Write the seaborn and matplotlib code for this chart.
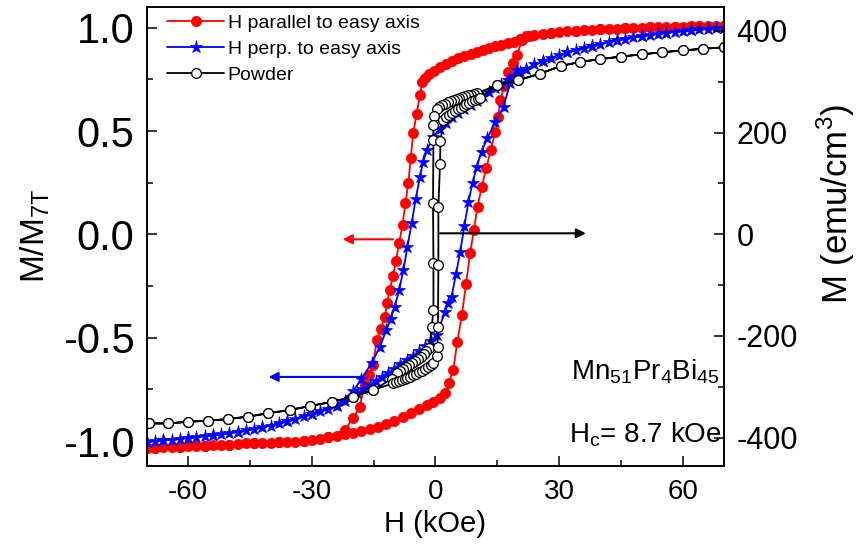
"""
Hysteresis loops of Mn51Pr4Bi45 (aligned / perpendicular / powder)
"""

import matplotlib
matplotlib.use("Agg")
import matplotlib.pyplot as plt
from matplotlib.ticker import MultipleLocator, FormatStrFormatter
import seaborn as sns

# H in kOe, M normalised to M(7 T)
# H parallel to easy axis: descending branch, then ascending branch
par_desc_h = [70, 68, 66, 64, 62, 60, 58, 56, 54, 52,
              50, 48, 46, 44, 42, 40, 38, 36, 34, 32,
              30, 28, 26, 24, 22, 20.5, 19, 17.5, 16, 14.5,
              13, 11.5, 10, 8.5, 7, 5.5, 4, 2.5, 1, -0.3,
              -1.5, -2.5, -3.2, -3.8, -4.6, -5.4, -6.0, -6.6, -7.3, -8.0,
              -8.8, -9.6, -10.3, -11.1, -11.7, -12.3, -13.3, -14.3, -15.1, -16.2,
              -17.2, -18.4, -20.0, -22, -26, -32, -38, -44, -50, -56,
              -62, -68, -70]
par_desc_m = [1.010, 1.010, 1.009, 1.008, 1.007, 1.005, 1.004, 1.003, 1.002, 1.001,
              1.000, 0.999, 0.997, 0.996, 0.994, 0.993, 0.991, 0.989, 0.986, 0.982,
              0.978, 0.974, 0.970, 0.966, 0.958, 0.945, 0.931, 0.924, 0.917, 0.909,
              0.901, 0.892, 0.883, 0.873, 0.862, 0.851, 0.840, 0.826, 0.808, 0.792,
              0.775, 0.758, 0.738, 0.673, 0.580, 0.490, 0.370, 0.250, 0.150, 0.047,
              -0.040, -0.128, -0.200, -0.270, -0.330, -0.400, -0.460, -0.511, -0.632, -0.680,
              -0.729, -0.834, -0.890, -0.945, -0.982, -1.000, -1.007, -1.011, -1.017, -1.022,
              -1.027, -1.033, -1.035]
par_asc_h = [-70, -68, -66, -64, -62, -60, -58, -56, -54, -52,
             -50, -48, -46, -44, -42, -40, -38, -36, -34, -32,
             -30, -28, -26, -24, -22, -20, -18, -16, -14, -12,
             -10, -8, -6, -4, -2, -0.5, 1, 2.3, 3.2, 4.3,
             5.3, 6.4, 7.4, 8.4, 9.3, 10.2, 11.2, 12.3, 13.4, 14.5,
             15.2, 15.7, 16.7, 17.7, 18.8, 19.8, 21, 23, 28, 34,
             40, 46, 52, 58, 64, 70]
par_asc_m = [-1.035, -1.033, -1.031, -1.029, -1.027, -1.025, -1.023, -1.022, -1.020, -1.018,
             -1.017, -1.014, -1.012, -1.011, -1.009, -1.008, -1.007, -1.005, -1.003, -1.000,
             -0.996, -0.990, -0.982, -0.975, -0.968, -0.960, -0.952, -0.943, -0.932, -0.920,
             -0.902, -0.886, -0.866, -0.846, -0.826, -0.810, -0.792, -0.769, -0.720, -0.657,
             -0.520, -0.390, -0.240, -0.092, 0.020, 0.133, 0.230, 0.319, 0.410, 0.496,
             0.570, 0.649, 0.720, 0.786, 0.830, 0.867, 0.940, 0.962, 0.974, 0.986,
             0.993, 0.997, 1.001, 1.004, 1.008, 1.010]

# H perpendicular to easy axis
perp_desc_h = [70, 68, 66, 64, 62, 60, 58, 56, 54, 52,
               50, 48, 46, 44, 42, 40, 38, 36, 34, 32,
               30, 28, 26, 24, 22, 20.5, 19, 17.5, 16, 14.5,
               13, 11.5, 10, 8.5, 7, 5.5, 4, 2.5, 1, -0.5,
               -2.1, -3.0, -3.8, -4.8, -5.8, -6.8, -7.8, -8.8, -9.9, -10.9,
               -11.9, -13.5, -15.5, -18, -20, -24, -30, -36, -42, -48,
               -54, -60, -66, -70]
perp_desc_m = [1.000, 0.998, 0.995, 0.992, 0.988, 0.984, 0.980, 0.975, 0.970, 0.965,
               0.959, 0.953, 0.946, 0.939, 0.931, 0.922, 0.913, 0.903, 0.892, 0.880,
               0.867, 0.853, 0.838, 0.822, 0.800, 0.785, 0.767, 0.748, 0.727, 0.707,
               0.688, 0.667, 0.645, 0.625, 0.606, 0.587, 0.566, 0.540, 0.512, 0.472,
               0.408, 0.350, 0.278, 0.170, 0.053, -0.060, -0.173, -0.270, -0.350, -0.410,
               -0.463, -0.544, -0.624, -0.700, -0.760, -0.825, -0.867, -0.905, -0.934, -0.956,
               -0.972, -0.985, -0.997, -1.003]
perp_asc_h = [-70, -68, -66, -64, -62, -60, -58, -56, -54, -52,
              -50, -48, -46, -44, -42, -40, -38, -36, -34, -32,
              -30, -28, -26, -24, -22, -20.5, -19, -17.5, -16, -14.5,
              -13, -11.5, -10, -8.5, -7, -5.5, -4, -2.5, -1, 0.3,
              2.3, 3.1, 3.9, 5.0, 6.0, 7.0, 8.0, 9.0, 10.0, 11.2,
              12.5, 14.5, 16.5, 18.1, 19.8, 22, 26, 32, 38, 44,
              50, 56, 62, 70]
perp_asc_m = [-1.003, -1.000, -0.997, -0.993, -0.989, -0.985, -0.981, -0.977, -0.972, -0.967,
              -0.962, -0.956, -0.949, -0.942, -0.934, -0.925, -0.915, -0.905, -0.893, -0.880,
              -0.867, -0.856, -0.845, -0.830, -0.806, -0.788, -0.770, -0.750, -0.728, -0.710,
              -0.690, -0.672, -0.650, -0.625, -0.607, -0.588, -0.566, -0.542, -0.515, -0.487,
              -0.374, -0.330, -0.302, -0.190, -0.084, 0.040, 0.157, 0.250, 0.327, 0.400,
              0.464, 0.544, 0.617, 0.730, 0.795, 0.800, 0.838, 0.880, 0.913, 0.939,
              0.959, 0.975, 0.988, 1.000]

# Powder
powder_desc_h = [70, 65, 60, 55, 50, 45, 40, 35, 30.5, 25.4,
                 20.1, 14.9, 10.0, 9.3, 8.6, 7.9, 7.2, 6.5, 5.8, 5.1,
                 4.4, 3.7, 3.0, 2.3, 1.6, 0.9, 0.3, -0.3, -0.5, -0.5,
                 -0.6, -0.5, -0.5, -0.9, -1.5, -2.2, -2.9, -3.6, -4.3, -5.0,
                 -5.7, -6.4, -7.1, -7.8, -8.5, -9.4, -10.6, -15.1, -20.0, -25.0,
                 -30.5, -35.4, -40.7, -45.5, -50.4, -55.3, -60.1, -65.0, -69.5]
powder_desc_m = [0.905, 0.898, 0.890, 0.881, 0.871, 0.860, 0.848, 0.834, 0.815, 0.778,
                 0.746, 0.722, 0.682, 0.679, 0.676, 0.672, 0.668, 0.664, 0.660, 0.655,
                 0.650, 0.645, 0.639, 0.632, 0.625, 0.617, 0.607, 0.575, 0.528, 0.456,
                 0.150, -0.141, -0.366, -0.447, -0.548, -0.566, -0.580, -0.592, -0.603, -0.613,
                 -0.623, -0.632, -0.641, -0.650, -0.660, -0.673, -0.700, -0.753, -0.786, -0.810,
                 -0.831, -0.850, -0.866, -0.882, -0.894, -0.902, -0.907, -0.915, -0.915]
powder_asc_h = [-69.5, -65.0, -60.1, -55.3, -50.4, -45.5, -40.7, -35.4, -30.5, -25.0,
                -20.0, -15.1, -10.3, -9.6, -8.9, -8.2, -7.5, -6.8, -6.1, -5.4,
                -4.7, -4.0, -3.3, -2.6, -1.9, -1.2, -0.5, 0.3, 0.5, 0.6,
                0.7, 0.7, 1.1, 1.2, 1.9, 2.6, 3.3, 4.0, 4.7, 5.4,
                6.1, 6.8, 7.5, 8.2, 8.9, 9.6, 10.3, 10.8, 14.9, 20.1,
                25.4, 30.5, 35, 40, 45, 50, 55, 60, 65, 70]
powder_asc_m = [-0.915, -0.915, -0.907, -0.902, -0.894, -0.882, -0.866, -0.850, -0.831, -0.810,
                -0.786, -0.753, -0.721, -0.716, -0.711, -0.706, -0.700, -0.694, -0.688, -0.681,
                -0.674, -0.667, -0.659, -0.651, -0.643, -0.634, -0.624, -0.590, -0.544, -0.450,
                -0.150, 0.133, 0.342, 0.450, 0.553, 0.567, 0.578, 0.588, 0.597, 0.605,
                0.613, 0.621, 0.629, 0.636, 0.643, 0.650, 0.657, 0.662, 0.722, 0.746,
                0.778, 0.815, 0.834, 0.848, 0.860, 0.871, 0.881, 0.890, 0.898, 0.905]

# Style
sns.set_style("ticks", {"axes.edgecolor": "black", "xtick.color": "black",
                        "ytick.color": "black", "text.color": "black",
                        "axes.labelcolor": "black"})
plt.rcParams['font.family'] = ['Liberation Sans', 'DejaVu Sans']
plt.rcParams['axes.linewidth'] = 1.2
plt.rcParams['axes.unicode_minus'] = False

fig = plt.figure(figsize=(8.61, 5.5), dpi=100)
ax = fig.add_axes([0.1707, 0.1527, 0.6702, 0.8353])

loops = [
    (par_desc_h + par_asc_h, par_desc_m + par_asc_m, 'H parallel to easy axis',
     dict(color='#ff0000', marker='o', markersize=7.4,
          markerfacecolor='#ff0000', markeredgecolor='#ff0000', markeredgewidth=0.5)),
    (perp_desc_h + perp_asc_h, perp_desc_m + perp_asc_m, 'H perp. to easy axis',
     dict(color='#0000ff', marker='*', markersize=9.5,
          markerfacecolor='#0000ff', markeredgecolor='#0000ff', markeredgewidth=0.5)),
    (powder_desc_h + powder_asc_h, powder_desc_m + powder_asc_m, 'Powder',
     dict(color='black', marker='o', markersize=7,
          markerfacecolor='white', markeredgecolor='black', markeredgewidth=0.9)),
]

for h, m, label, style in loops:
    sns.lineplot(x=h, y=m, ax=ax, sort=False, estimator=None,
                 label=label, linewidth=1.3, **style)

ax.set_xlim(-70, 70)
ax.set_ylim(-1.121, 1.102)
ax.xaxis.set_major_locator(MultipleLocator(30))
ax.xaxis.set_minor_locator(MultipleLocator(15))
ax.yaxis.set_major_locator(MultipleLocator(0.5))
ax.yaxis.set_minor_locator(MultipleLocator(0.25))
ax.yaxis.set_major_formatter(FormatStrFormatter('%.1f'))
ax.tick_params(axis='both', which='both', direction='in', width=1.1)
ax.tick_params(axis='both', which='major', length=7)
ax.tick_params(axis='both', which='minor', length=4)
ax.tick_params(axis='y', labelsize=30, pad=9)
ax.tick_params(axis='x', labelsize=20, pad=9)

ax.set_xlabel('H (kOe)', fontsize=21)
ax.set_ylabel(r'M/M$_\mathregular{7T}$', fontsize=24)
ax.yaxis.set_label_coords(-0.165, 0.5)

# right axis in emu/cm3
ax2 = ax.twinx()
ax2.set_ylim(-456, 448)
ax2.yaxis.set_major_locator(MultipleLocator(200))
ax2.yaxis.set_minor_locator(MultipleLocator(100))
ax2.tick_params(axis='y', which='both', direction='in', width=1.1)
ax2.tick_params(axis='y', which='major', length=7, labelsize=22, pad=9)
ax2.tick_params(axis='y', which='minor', length=4)
ax2.set_ylabel(r'M (emu/cm$^\mathregular{3}$)', fontsize=25)
ax2.yaxis.set_label_coords(1.157, 0.57)

# arrows pointing to the relevant axis
arrow = dict(arrowstyle='-|>', lw=1.5, mutation_scale=14, shrinkA=0, shrinkB=0)
ax.annotate('', xy=(-22.5, -0.024), xytext=(-10.3, -0.024),
            arrowprops=dict(color='#ff0000', **arrow))
ax.annotate('', xy=(-40.5, -0.69), xytext=(-17.6, -0.69),
            arrowprops=dict(color='#0000ff', **arrow))
ax.annotate('', xy=(36.5, 0.005), xytext=(1.1, 0.005),
            arrowprops=dict(color='black', **arrow))

ax.text(0.863, 0.19, r'Mn$_\mathregular{51}$Pr$_\mathregular{4}$Bi$_\mathregular{45}$',
        transform=ax.transAxes, ha='center', va='baseline', fontsize=20)
ax.text(0.863, 0.052, r'H$_\mathregular{c}$= 8.7 kOe',
        transform=ax.transAxes, ha='center', va='baseline', fontsize=20)

ax.legend(loc='upper left', bbox_to_anchor=(0.022, 1.0), borderaxespad=0,
          frameon=False, fontsize=14, handlelength=2.9,
          handletextpad=0.2, labelspacing=0.42)

fig.savefig('out.png', dpi=100)
plt.close(fig)
